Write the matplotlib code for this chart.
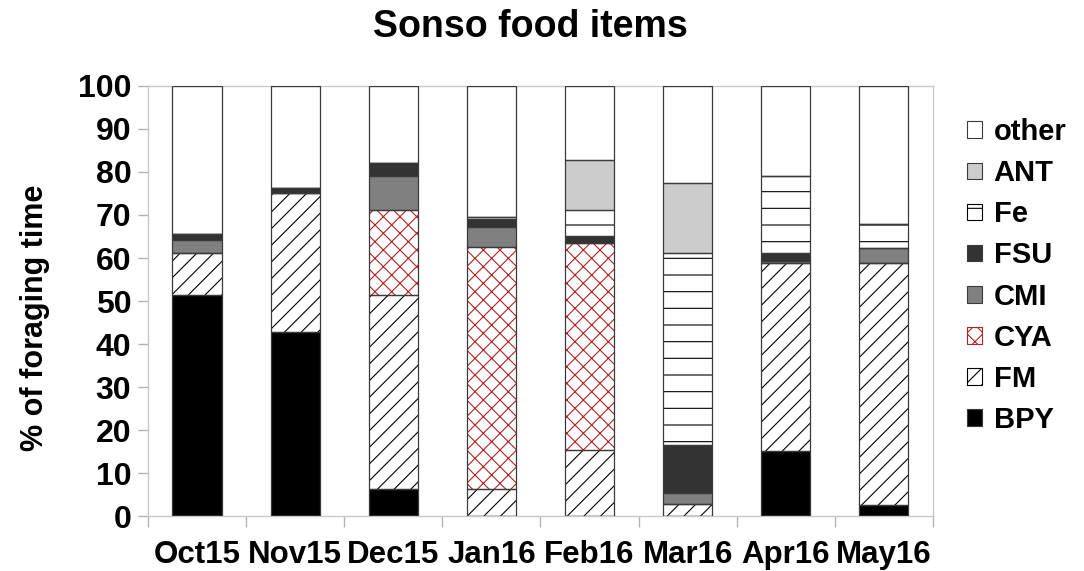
import numpy as np
import matplotlib
matplotlib.use("Agg")
import matplotlib.pyplot as plt
from matplotlib.patches import Patch

plt.rcParams['font.family'] = ['Liberation Sans', 'DejaVu Sans']
plt.rcParams['font.weight'] = 'bold'
plt.rcParams['hatch.linewidth'] = 0.8

months = ['Oct15', 'Nov15', 'Dec15', 'Jan16', 'Feb16', 'Mar16', 'Apr16', 'May16']

# stacked from the bottom up
BPY = [51.4, 42.9, 6.2, 0.0, 0.0, 0.0, 15.2, 2.6]
FM = [9.8, 32.1, 45.3, 6.2, 15.3, 2.8, 43.7, 56.3]
CYA = [0.0, 0.0, 19.7, 56.4, 48.1, 0.0, 0.0, 0.0]
CMI = [3.1, 0.0, 7.9, 4.7, 0.0, 2.6, 0.4, 3.4]
FSU = [1.3, 1.2, 2.9, 1.7, 1.6, 11.1, 1.9, 0.0]
Fe = [0.0, 0.0, 0.0, 0.6, 6.2, 44.6, 17.9, 5.6]
ANT = [0.0, 0.0, 0.0, 0.0, 11.6, 16.3, 0.0, 0.0]
other = [34.4, 23.8, 18.0, 30.4, 17.2, 22.6, 20.9, 32.1]

series = [
    ('BPY', BPY, 'black', None, 'black'),
    ('FM', FM, 'white', '//', 'black'),
    ('CYA', CYA, 'white', 'xx', '#b22222'),
    ('CMI', CMI, '#808080', None, '#808080'),
    ('FSU', FSU, '#333333', None, '#333333'),
    ('Fe', Fe, 'white', '-', 'black'),
    ('ANT', ANT, '#cccccc', None, '#cccccc'),
    ('other', other, 'white', None, 'white'),
]

fig = plt.figure(figsize=(10.84, 5.71), dpi=100)
ax = fig.add_axes([0.1365, 0.0963, 0.7242, 0.7531])

x = np.arange(len(months))
width = 0.5
bottom = np.zeros(len(months))
handles = []
for name, vals, fc, hatch, hc in series:
    vals = np.array(vals)
    # fill + hatch (hatch drawn in edge colour), then the outline on top
    ax.bar(x, vals, width, bottom=bottom, color=fc, hatch=hatch,
           edgecolor=hc, linewidth=0, zorder=2)
    ax.bar(x, vals, width, bottom=bottom, fill=False,
           edgecolor='#3a3a3a', linewidth=0.9, zorder=3)
    handles.append(Patch(facecolor=fc, hatch=hatch,
                         edgecolor=hc if hatch else '#3a3a3a', linewidth=0.8))
    bottom += vals

ax.set_xlim(-0.5, len(months) - 0.5)
ax.set_ylim(0, 100)
ax.set_yticks(np.arange(0, 101, 10))
ax.set_xticks(x)
ax.set_xticklabels(months)
ax.set_xticks(np.arange(-0.5, len(months), 1), minor=True)
ax.tick_params(axis='x', which='major', length=0, pad=17, labelsize=22.5)
ax.tick_params(axis='x', which='minor', length=8, color='#b3b3b3', width=1)
ax.tick_params(axis='y', length=7, color='#b3b3b3', width=1, pad=5, labelsize=23)
for s in ax.spines.values():
    s.set_color('#c8c8c8')
    s.set_linewidth(1)

ax.set_ylabel('% of foraging time', fontsize=22, fontweight='bold')
ax.yaxis.set_label_coords(-0.125, 0.46)

fig.text(0.489, 0.953, 'Sonso food items', ha='center', va='center',
         fontsize=27, fontweight='bold')

fig.legend(handles[::-1], [s[0] for s in series][::-1], loc='center left',
           bbox_to_anchor=(0.879, 0.5166), frameon=False, borderpad=0,
           handlelength=0.5, handleheight=0.5, handletextpad=0.4,
           labelspacing=0.45, prop={'size': 21, 'weight': 'bold'})

fig.savefig('out.png', dpi=100)
